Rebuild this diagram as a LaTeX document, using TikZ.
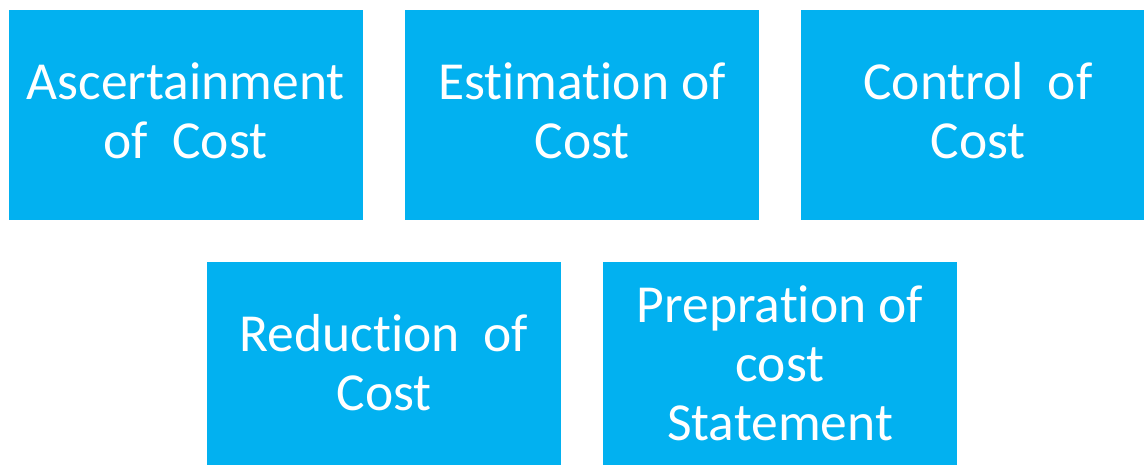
\documentclass[tikz,border=0pt]{standalone}
\usepackage{fontspec}
\setmainfont{Carlito}[Ligatures={NoCommon,NoContextual}]
\definecolor{boxblue}{RGB}{2,177,240}
\newcommand{\nolig}{\kern0pt\relax}
\begin{document}
\begin{tikzpicture}[x=1pt,y=-1pt,
  card/.style={fill=boxblue, draw=none, minimum width=354pt, minimum height=210pt,
    inner sep=0pt, text=white, align=center,
    font=\fontsize{53.5}{59}\selectfont},
  lbl/.style={text=white, align=center, inner sep=0pt,
    font=\fontsize{53.5}{59}\selectfont}]
\useasboundingbox (0,0) rectangle (1144,465);
\clip (0,0) rectangle (1144,465);
\node[card] (asc) at (185.5,115) {};
\node[card] (est) at (582,115) {};
\node[card] (con) at (978,115) {};
\node[card] (red) at (384,367) {};
\node[card] (pre) at (780,367) {};
\node[lbl] (ascT) at ([yshift=4pt]asc.center) {Ascertainment\\of\ \ Cost};
\node[lbl] (estT) at ([yshift=4pt]est.center) {Estimat\nolig ion of\\Cost};
\node[lbl] (conT) at ([yshift=4pt]con.center) {Control\ \ of\\Cost};
\node[lbl] (redT) at ([yshift=4pt]red.center) {Reduct\nolig ion\ \ of\\Cost};
\node[lbl] (preT) at ([yshift=4pt]pre.center) {Preprat\nolig ion of\\cost\\Statement};
\end{tikzpicture}
\end{document}
